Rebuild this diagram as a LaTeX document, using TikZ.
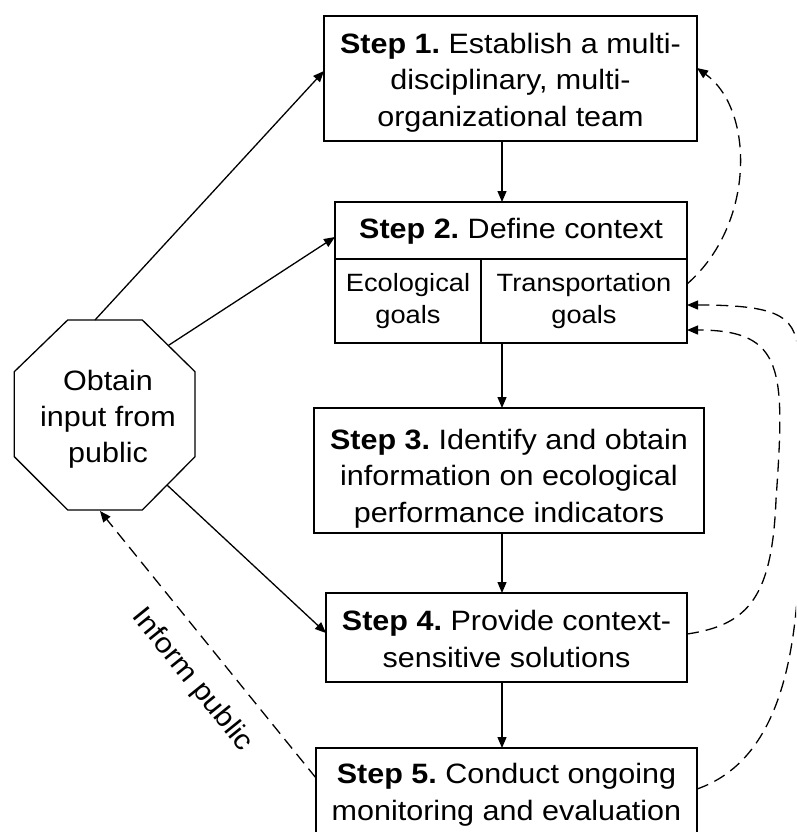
\documentclass[tikz,border=0pt]{standalone}
\usepackage{fontspec}
\setmainfont{Liberation Sans}[FakeStretch=1.09]
\usetikzlibrary{arrows.meta,calc}
\frenchspacing
\newcommand\bigtxt{\fontsize{28pt}{36.5pt}\selectfont}
\newcommand\smtxt{\fontsize{25pt}{32pt}\selectfont}
\newcommand\octtxt{\fontsize{28pt}{36pt}\selectfont}
\tikzset{
  box/.style={draw, line width=1.3pt, inner sep=0pt, outer sep=0pt, anchor=north west},
  lbl/.style={inner sep=0pt, outer sep=0pt, align=center, anchor=north, font=\bigtxt},
  arr/.style={line width=1.3pt, -{Triangle[length=11pt,width=9pt]}},
  darr/.style={arr, dash pattern=on 12pt off 7pt},
  edge/.style={line width=1.3pt},
}
\begin{document}
\begin{tikzpicture}[x=1pt,y=-1pt]
\useasboundingbox (0,0) rectangle (796,832);
\clip (0,0) rectangle (796,832);
% boxes
\node[box, minimum width=373pt, minimum height=125pt] (s1) at (324,16) {};
\node[box, minimum width=352pt, minimum height=141pt] (s2) at (335,202) {};
\node[box, minimum width=390pt, minimum height=125pt] (s3) at (314,408) {};
\node[box, minimum width=361pt, minimum height=89pt] (s4) at (326,593) {};
\node[box, minimum width=381pt, minimum height=112pt] (s5) at (316,748) {};
% step 2 dividers
\coordinate (d1) at ($(s2.north west)+(0,57)$);
\coordinate (d2) at ($(s2.north east)+(0,57)$);
\coordinate (d3) at ($(s2.north west)+(146,57)$);
\draw[edge] (d1) -- (d2);
\draw[edge] (d3) -- (d3 |- s2.south);
% octagon
\draw[edge] (67.7,320) -- (142.3,320) -- (195,371.7) -- (195,456.7) -- (142.3,510) -- (67.7,510) -- (14.3,456.7) -- (14.3,371.7) -- cycle;
% texts
\node[lbl] (t1) at (510.5,32.9) {\textbf{Step 1.} Establish a multi-\\disciplinary, multi-\\organizational team};
\node[lbl] (t2) at (511,217.9) {\textbf{Step 2.} Define context};
\node[lbl, font=\smtxt] (t2a) at (408,273.5) {Ecological\\goals};
\node[lbl, font=\smtxt] (t2b) at (584,273.5) {Transportation\\goals};
\node[lbl] (t3) at (509,428.9) {\textbf{Step 3.} Identify and obtain\\information on ecological\\performance indicators};
\node[lbl] (t4) at (506.5,610.6) {\textbf{Step 4.} Provide context-\\sensitive solutions};
\node[lbl] (t5) at (506.5,763.6) {\textbf{Step 5.} Conduct ongoing\\monitoring and evaluation};
\node[lbl, font=\octtxt] (oct) at (108,369.8) {Obtain\\input from\\public};
% vertical arrows
\coordinate (vx) at (502,0);
\draw[arr] (s1.south -| vx) -- (s2.north -| vx);
\draw[arr] (s2.south -| vx) -- (s3.north -| vx);
\draw[arr] (s3.south -| vx) -- (s4.north -| vx);
\draw[arr] (s4.south -| vx) -- (s5.north -| vx);
% octagon connection points
\coordinate (o1) at (95,320);
\coordinate (o2) at (168.3,345.5);
\coordinate (o3) at (167,485);
\coordinate (o4) at (100,511);
% box connection points
\coordinate (s1in) at ($(s1.north west)+(0,55)$);
\coordinate (s2in) at ($(s2.north west)+(0,35)$);
\coordinate (s4in) at ($(s4.north west)+(0,40)$);
\coordinate (s5w)  at ($(s5.north west)+(0,30)$);
\coordinate (s1r)  at ($(s1.north east)+(0,52)$);
\coordinate (s2r1) at ($(s2.north east)+(0,82)$);
\coordinate (s2r2) at ($(s2.north east)+(0,103)$);
\coordinate (s2r3) at ($(s2.north east)+(0,128)$);
\coordinate (s4r)  at ($(s4.north east)+(0,41)$);
\coordinate (s5r)  at ($(s5.north east)+(0,41)$);
% octagon arrows
\draw[arr] (o1) -- (s1in);
\draw[arr] (o2) -- (s2in);
\draw[arr] (o3) -- (s4in);
\draw[darr] (s5w) -- (o4);
\node[font=\bigtxt, rotate=-51, inner sep=0pt] (inf) at (192,680) {Inform public};
% dashed feedback curves
\draw[darr] (s2r1) .. controls (755,225) and (755,110) .. (s1r);
\draw[darr] (s4r) .. controls (750,625) and (772,595) .. (776,500) .. controls (785,370) and (785,330) .. (s2r3);
\draw[darr] (s5r) .. controls (760,767) and (789,700) .. (797,600) .. controls (803,520) and (806,420) .. (799,358) .. controls (796,318) and (785,305) .. (s2r2);
\end{tikzpicture}
\end{document}
